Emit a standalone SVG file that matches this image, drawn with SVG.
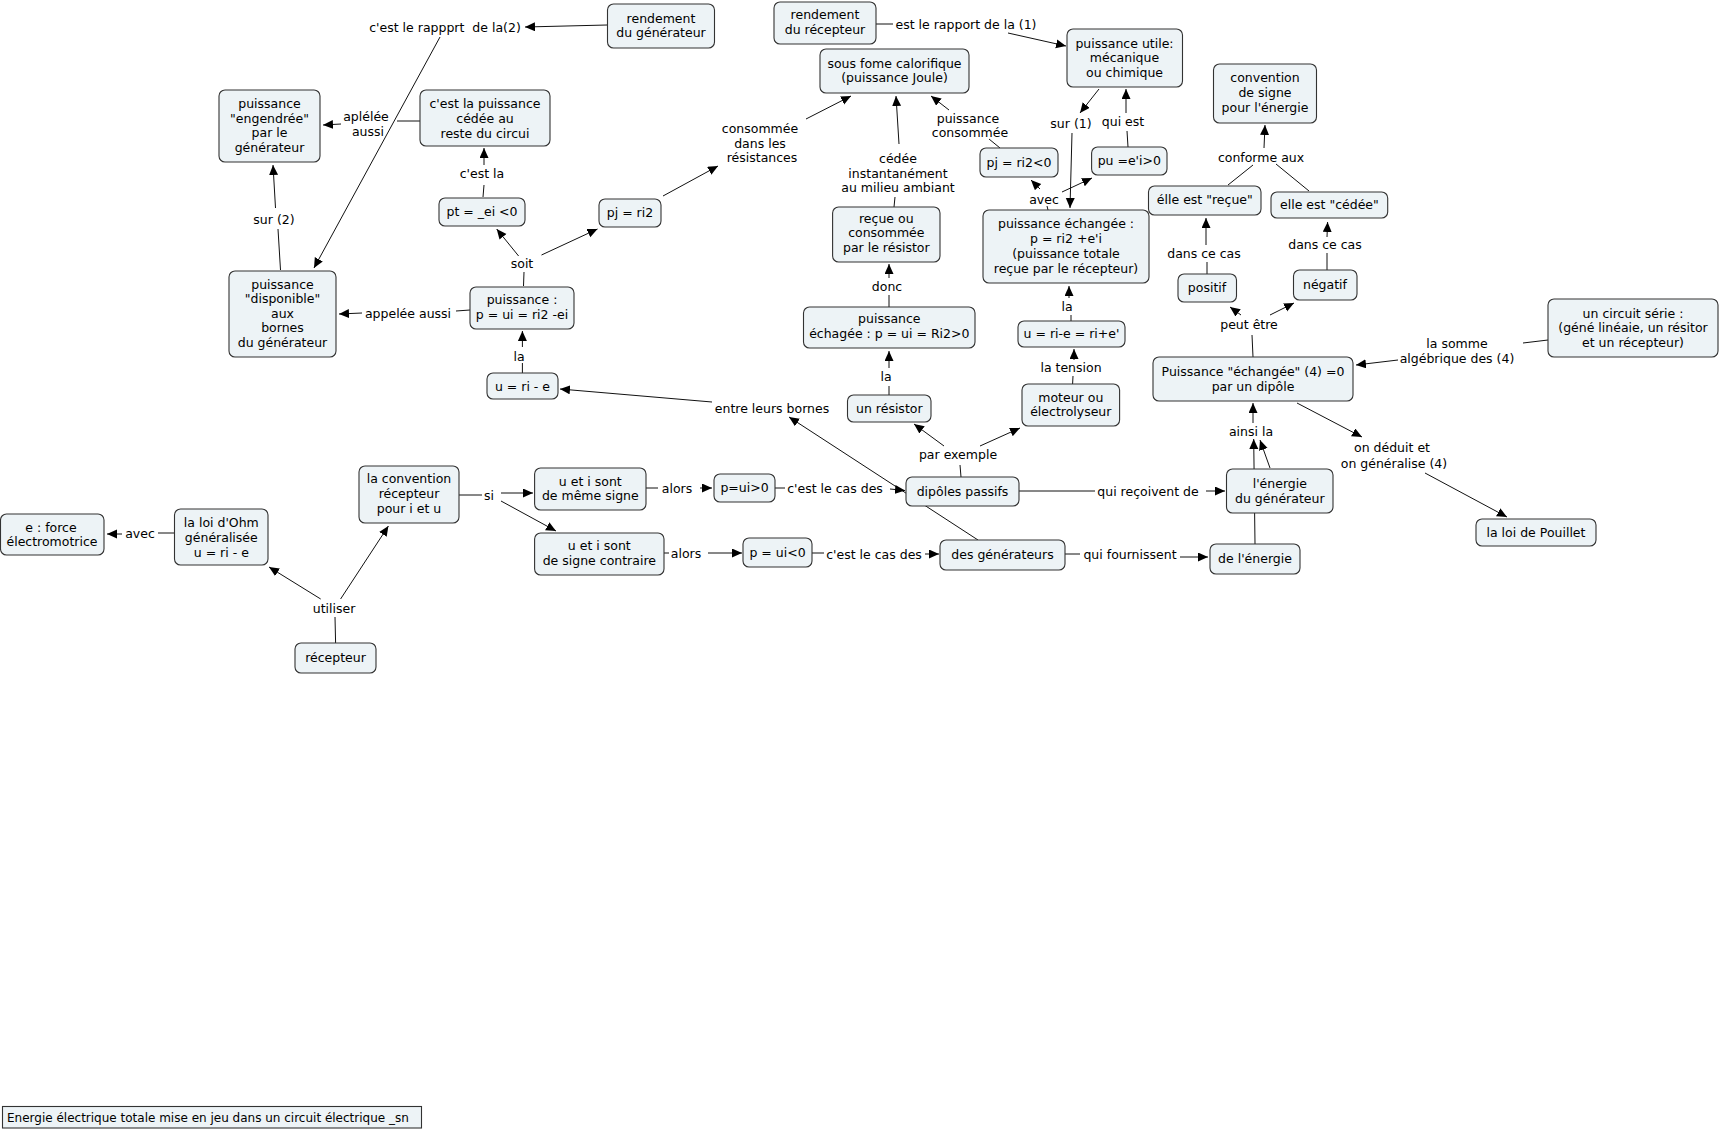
<svg xmlns="http://www.w3.org/2000/svg" width="1719" height="1130" viewBox="0 0 1719 1130">
<style>
text{font-family:"DejaVu Sans",Verdana,sans-serif;font-size:12.5px;fill:#000;text-anchor:middle;dominant-baseline:central}
.n rect{fill:#EDF3F6;stroke:#333;stroke-width:1.1}
#links line{stroke:#111;stroke-width:1;fill:none}
#links line.a{marker-end:url(#ah)}
.t{white-space:pre}
</style>
<defs>
<marker id="ah" markerUnits="userSpaceOnUse" markerWidth="11" markerHeight="10" refX="10" refY="4.5" orient="auto"><path d="M0,0 L10,4.5 L0,9 z" fill="#000"/></marker>
</defs>
<rect width="1719" height="1130" fill="#fff"/>
<g id="links">
<line class="a" x1="607" y1="25" x2="525" y2="27"/>
<line class="a" x1="440" y1="37" x2="314" y2="268"/>
<line x1="420" y1="121" x2="397" y2="121"/>
<line class="a" x1="341" y1="124" x2="323" y2="125"/>
<line x1="483" y1="197" x2="484" y2="185"/>
<line class="a" x1="484" y1="165" x2="484" y2="148"/>
<line x1="280.5" y1="270" x2="278" y2="229"/>
<line class="a" x1="275.5" y1="208" x2="273" y2="165"/>
<line x1="470" y1="310" x2="456" y2="311"/>
<line class="a" x1="362" y1="313" x2="339" y2="314"/>
<line x1="523.5" y1="286" x2="524" y2="272"/>
<line class="a" x1="518.6" y1="256" x2="496.7" y2="229"/>
<line class="a" x1="541.5" y1="255" x2="597.5" y2="229"/>
<line x1="522.4" y1="373" x2="522.4" y2="363"/>
<line class="a" x1="522.4" y1="347" x2="522.4" y2="331"/>
<line class="a" x1="663" y1="196" x2="718" y2="166"/>
<line class="a" x1="806" y1="119" x2="851" y2="96"/>
<line x1="894" y1="207" x2="895" y2="197"/>
<line class="a" x1="899" y1="144" x2="896" y2="96"/>
<line x1="1000" y1="148" x2="989" y2="139"/>
<line class="a" x1="949" y1="110" x2="931" y2="96"/>
<line x1="889" y1="307" x2="889" y2="295"/>
<line class="a" x1="889" y1="278" x2="889" y2="264"/>
<line x1="889" y1="395" x2="889" y2="386"/>
<line class="a" x1="889" y1="368" x2="889" y2="351"/>
<line x1="876" y1="24" x2="893" y2="24"/>
<line class="a" x1="1008" y1="33" x2="1066" y2="46"/>
<line class="a" x1="1099" y1="89" x2="1080" y2="113"/>
<line class="a" x1="1072" y1="133" x2="1070" y2="208"/>
<line x1="1128" y1="147" x2="1127" y2="131"/>
<line class="a" x1="1126" y1="113" x2="1126" y2="89"/>
<line x1="1048" y1="210" x2="1047" y2="206"/>
<line class="a" x1="1040" y1="189" x2="1031" y2="180"/>
<line class="a" x1="1062" y1="192" x2="1092" y2="178"/>
<line x1="1071" y1="321" x2="1071" y2="315"/>
<line class="a" x1="1069" y1="298" x2="1069" y2="286"/>
<line x1="1072.6" y1="384" x2="1073" y2="376"/>
<line class="a" x1="1074" y1="360" x2="1074" y2="349"/>
<line x1="961" y1="477" x2="960" y2="465"/>
<line class="a" x1="944" y1="446" x2="914" y2="424"/>
<line class="a" x1="980" y1="446" x2="1020" y2="428"/>
<line class="a" x1="978" y1="540" x2="789" y2="417"/>
<line class="a" x1="712" y1="402" x2="560" y2="389"/>
<line x1="459" y1="495" x2="482" y2="495"/>
<line class="a" x1="501" y1="493" x2="533" y2="493"/>
<line class="a" x1="501" y1="501" x2="556" y2="531"/>
<line x1="646" y1="488" x2="658" y2="488"/>
<line class="a" x1="700" y1="488" x2="712" y2="488"/>
<line x1="775" y1="488" x2="785" y2="488"/>
<line class="a" x1="890" y1="489" x2="905" y2="490.5"/>
<line x1="664" y1="553" x2="669" y2="553"/>
<line class="a" x1="708" y1="553" x2="742" y2="553"/>
<line x1="812" y1="553" x2="824" y2="553"/>
<line class="a" x1="925" y1="554" x2="939" y2="554"/>
<line x1="1019" y1="491" x2="1095" y2="491"/>
<line class="a" x1="1206" y1="491" x2="1225" y2="491"/>
<line x1="1065" y1="554" x2="1080" y2="554"/>
<line class="a" x1="1180" y1="557" x2="1208" y2="557"/>
<line class="a" x1="1255" y1="544" x2="1253.7" y2="439"/>
<line class="a" x1="1270" y1="468" x2="1260" y2="440"/>
<line class="a" x1="1253" y1="423" x2="1253" y2="403"/>
<line class="a" x1="1297" y1="403" x2="1362" y2="437"/>
<line class="a" x1="1425" y1="473" x2="1507" y2="517"/>
<line x1="1548" y1="340" x2="1523" y2="343"/>
<line class="a" x1="1398" y1="360" x2="1356" y2="365"/>
<line x1="1253" y1="357" x2="1252" y2="335"/>
<line class="a" x1="1241" y1="315" x2="1230" y2="307"/>
<line class="a" x1="1270" y1="315" x2="1294" y2="303"/>
<line x1="1207" y1="274" x2="1207" y2="262"/>
<line class="a" x1="1206" y1="245" x2="1206" y2="218"/>
<line x1="1327" y1="270" x2="1327" y2="253"/>
<line class="a" x1="1327" y1="237" x2="1327.6" y2="222"/>
<line x1="1228" y1="185" x2="1253" y2="165"/>
<line x1="1309" y1="191" x2="1276" y2="164"/>
<line class="a" x1="1264" y1="148" x2="1265" y2="125"/>
<line x1="174" y1="533" x2="158" y2="533"/>
<line class="a" x1="122" y1="534" x2="107" y2="534"/>
<line x1="335.6" y1="643" x2="335" y2="617"/>
<line class="a" x1="320.7" y1="599" x2="269" y2="567"/>
<line class="a" x1="340.6" y1="599" x2="388.4" y2="526"/>
</g>
<g id="labels">
<text class="t" x="445" y="27">c'est le rappprt  de la(2)</text>
<text x="366" y="116">aplélée</text><text x="368" y="131">aussi</text>
<text x="482" y="173">c'est la</text>
<text x="274" y="219">sur (2)</text>
<text x="408" y="313">appelée aussi</text>
<text x="522" y="263">soit</text>
<text x="519" y="356">la</text>
<text x="760" y="128">consommée</text><text x="760" y="143">dans les</text><text x="762" y="157">résistances</text>
<text x="898" y="158">cédée</text><text x="898" y="173">instantanément</text><text x="898" y="187">au milieu ambiant</text>
<text x="968" y="118">puissance</text><text x="970" y="132">consommée</text>
<text x="887" y="286">donc</text>
<text x="886" y="376">la</text>
<text x="966" y="24">est le rapport de la (1)</text>
<text x="1071" y="123">sur (1)</text>
<text x="1123" y="121">qui est</text>
<text x="1044" y="199">avec</text>
<text x="1067" y="306">la</text>
<text x="1071" y="367">la tension</text>
<text x="958" y="454">par exemple</text>
<text x="772" y="408">entre leurs bornes</text>
<text x="489" y="495">si</text>
<text x="677" y="488">alors</text>
<text x="686" y="553">alors</text>
<text x="835" y="488">c'est le cas des</text>
<text x="874" y="554">c'est le cas des</text>
<text x="1148" y="491">qui reçoivent de</text>
<text x="1130" y="554">qui fournissent</text>
<text x="1251" y="431">ainsi la</text>
<text x="1392" y="447">on déduit et</text><text x="1394" y="463">on généralise (4)</text>
<text x="1457" y="343">la somme</text><text x="1457" y="358">algébrique des (4)</text>
<text x="1249" y="324">peut être</text>
<text x="1204" y="253">dans ce cas</text>
<text x="1325" y="244">dans ce cas</text>
<text x="1261" y="157">conforme aux</text>
<text x="140" y="533">avec</text>
<text x="334" y="608">utiliser</text>
</g>
<g id="n1" class="n"><rect x="607.5" y="4" width="107" height="44" rx="6"/><text x="661" y="18.4">rendement</text><text x="661" y="32.5">du générateur</text></g>
<g id="n2" class="n"><rect x="774" y="2" width="102" height="42" rx="6"/><text x="825" y="14.5">rendement</text><text x="825" y="29">du récepteur</text></g>
<g id="n3" class="n"><rect x="1067" y="29" width="115.5" height="58" rx="6"/><text x="1124.5" y="43">puissance utile:</text><text x="1124.5" y="57.7">mécanique</text><text x="1124.5" y="72.4">ou chimique</text></g>
<g id="n4" class="n"><rect x="820" y="49" width="149" height="44" rx="6"/><text x="894.5" y="63.4">sous fome calorifique</text><text x="894.5" y="77.8">(puissance Joule)</text></g>
<g id="n5" class="n"><rect x="1213.5" y="64" width="103" height="59" rx="6"/><text x="1265" y="77.5">convention</text><text x="1265" y="92.3">de signe</text><text x="1265" y="107">pour l'énergie</text></g>
<g id="n6" class="n"><rect x="219" y="90" width="101" height="72" rx="6"/><text x="269.5" y="103.3">puissance</text><text x="269.5" y="118">"engendrée"</text><text x="269.5" y="132.7">par le</text><text x="269.5" y="147.4">générateur</text></g>
<g id="n7" class="n"><rect x="420" y="90" width="130" height="56" rx="6"/><text x="485" y="103.3">c'est la puissance</text><text x="485" y="118.2">cédée au</text><text x="485" y="133">reste du circui</text></g>
<g id="n8" class="n"><rect x="439" y="198" width="86" height="28" rx="6"/><text x="482" y="211.8">pt = _ei &lt;0</text></g>
<g id="n9" class="n"><rect x="599" y="199" width="62" height="28" rx="6"/><text x="630" y="212.5">pj = ri2</text></g>
<g id="n10" class="n"><rect x="980" y="148" width="78" height="29" rx="6"/><text x="1019" y="162.3">pj = ri2&lt;0</text></g>
<g id="n11" class="n"><rect x="1091.6" y="147" width="75.4" height="28" rx="6"/><text x="1129.3" y="160.8">pu =e'i&gt;0</text></g>
<g id="n12" class="n"><rect x="1148.5" y="186" width="112.5" height="29" rx="6"/><text x="1204.8" y="199.8">élle est "reçue"</text></g>
<g id="n13" class="n"><rect x="1271" y="192" width="116.7" height="26" rx="6"/><text x="1329.4" y="204.5">elle est "cédée"</text></g>
<g id="n14" class="n"><rect x="832.6" y="207" width="107.4" height="55" rx="6"/><text x="886.3" y="218">reçue ou</text><text x="886.3" y="232.5">consommée</text><text x="886.3" y="247">par le résistor</text></g>
<g id="n15" class="n"><rect x="983" y="210" width="166" height="73" rx="6"/><text x="1066" y="223.5">puissance échangée :</text><text x="1066" y="238.4">p = ri2 +e'i</text><text x="1066" y="253.3">(puissance totale</text><text x="1066" y="268">reçue par le récepteur)</text></g>
<g id="n16" class="n"><rect x="229" y="271" width="107" height="86" rx="6"/><text x="282.5" y="284.4">puissance</text><text x="282.5" y="298.8">"disponible"</text><text x="282.5" y="313.4">aux</text><text x="282.5" y="327.9">bornes</text><text x="282.5" y="342.4">du générateur</text></g>
<g id="n17" class="n"><rect x="1178" y="274" width="58.5" height="28" rx="6"/><text x="1207" y="287.5">positif</text></g>
<g id="n18" class="n"><rect x="1293.5" y="270" width="63.5" height="30" rx="6"/><text x="1325" y="284.5">négatif</text></g>
<g id="n19" class="n"><rect x="470" y="287" width="104" height="42" rx="6"/><text x="522" y="299.6">puissance :</text><text x="522" y="314.2">p = ui = ri2 -ei</text></g>
<g id="n20" class="n"><rect x="803.5" y="307" width="171.5" height="41" rx="6"/><text x="889.3" y="318.8">puissance</text><text x="889.3" y="333.5">échagée : p = ui = Ri2&gt;0</text></g>
<g id="n21" class="n"><rect x="1018" y="321" width="107" height="26" rx="6"/><text x="1071.5" y="333.5">u = ri-e = ri+e'</text></g>
<g id="n22" class="n"><rect x="1548" y="299" width="170" height="58" rx="6"/><text x="1633" y="313.3">un circuit série :</text><text x="1633" y="327.8">(géné linéaie, un résitor</text><text x="1633" y="342.4">et un récepteur)</text></g>
<g id="n23" class="n"><rect x="1153" y="357" width="200" height="44" rx="6"/><text x="1253" y="371.2">Puissance "échangée" (4) =0</text><text x="1253" y="386.3">par un dipôle</text></g>
<g id="n24" class="n"><rect x="487" y="373" width="71" height="26" rx="6"/><text x="522.5" y="386.3">u = ri - e</text></g>
<g id="n25" class="n"><rect x="847.5" y="395" width="83.5" height="27" rx="6"/><text x="889.3" y="408.4">un résistor</text></g>
<g id="n26" class="n"><rect x="1022" y="384" width="97.6" height="42" rx="6"/><text x="1070.8" y="397">moteur ou</text><text x="1070.8" y="411.5">électrolyseur</text></g>
<g id="n27" class="n"><rect x="359" y="466" width="100" height="57" rx="6"/><text x="409" y="478.8">la convention</text><text x="409" y="493.6">récepteur</text><text x="409" y="508.4">pour i et u</text></g>
<g id="n28" class="n"><rect x="534.6" y="468" width="111.4" height="42" rx="6"/><text x="590.3" y="481">u et i sont</text><text x="590.3" y="495.8">de même signe</text></g>
<g id="n29" class="n"><rect x="714" y="474" width="61" height="28" rx="6"/><text x="744.5" y="487.8">p=ui&gt;0</text></g>
<g id="n30" class="n"><rect x="906" y="477" width="113" height="29" rx="6"/><text x="962.5" y="491">dipôles passifs</text></g>
<g id="n31" class="n"><rect x="1226.5" y="469" width="106.5" height="44" rx="6"/><text x="1279.8" y="483.4">l'énergie</text><text x="1279.8" y="498.3">du générateur</text></g>
<g id="n32" class="n"><rect x="0.5" y="514" width="103.5" height="41" rx="6"/><text x="51" y="527.6">e : force</text><text x="52" y="541.8">électromotrice</text></g>
<g id="n33" class="n"><rect x="174.5" y="509" width="93.5" height="56" rx="6"/><text x="221.3" y="522.6">la loi d'Ohm</text><text x="221.3" y="537.5">généralisée</text><text x="221.3" y="552.4">u = ri - e</text></g>
<g id="n34" class="n"><rect x="534.6" y="533" width="129.4" height="42" rx="6"/><text x="599.3" y="545.8">u et i sont</text><text x="599.3" y="560.4">de signe contraire</text></g>
<g id="n35" class="n"><rect x="743" y="538" width="69" height="29" rx="6"/><text x="777.5" y="552">p = ui&lt;0</text></g>
<g id="n36" class="n"><rect x="940" y="540" width="125" height="30" rx="6"/><text x="1002.5" y="554.5">des générateurs</text></g>
<g id="n37" class="n"><rect x="1210" y="544" width="90" height="30" rx="6"/><text x="1255" y="558.5">de l'énergie</text></g>
<g id="n38" class="n"><rect x="1476" y="519" width="120" height="27" rx="6"/><text x="1536" y="532.4">la loi de Pouillet</text></g>
<g id="n39" class="n"><rect x="295" y="643" width="81" height="30" rx="6"/><text x="335.5" y="657.8">récepteur</text></g>
<g id="title" class="n"><rect x="2.5" y="1106.5" width="419" height="21.5"/><text x="7" y="1117.5" style="text-anchor:start;font-size:12px">Energie électrique totale mise en jeu dans un circuit électrique _sn</text></g>
</svg>
